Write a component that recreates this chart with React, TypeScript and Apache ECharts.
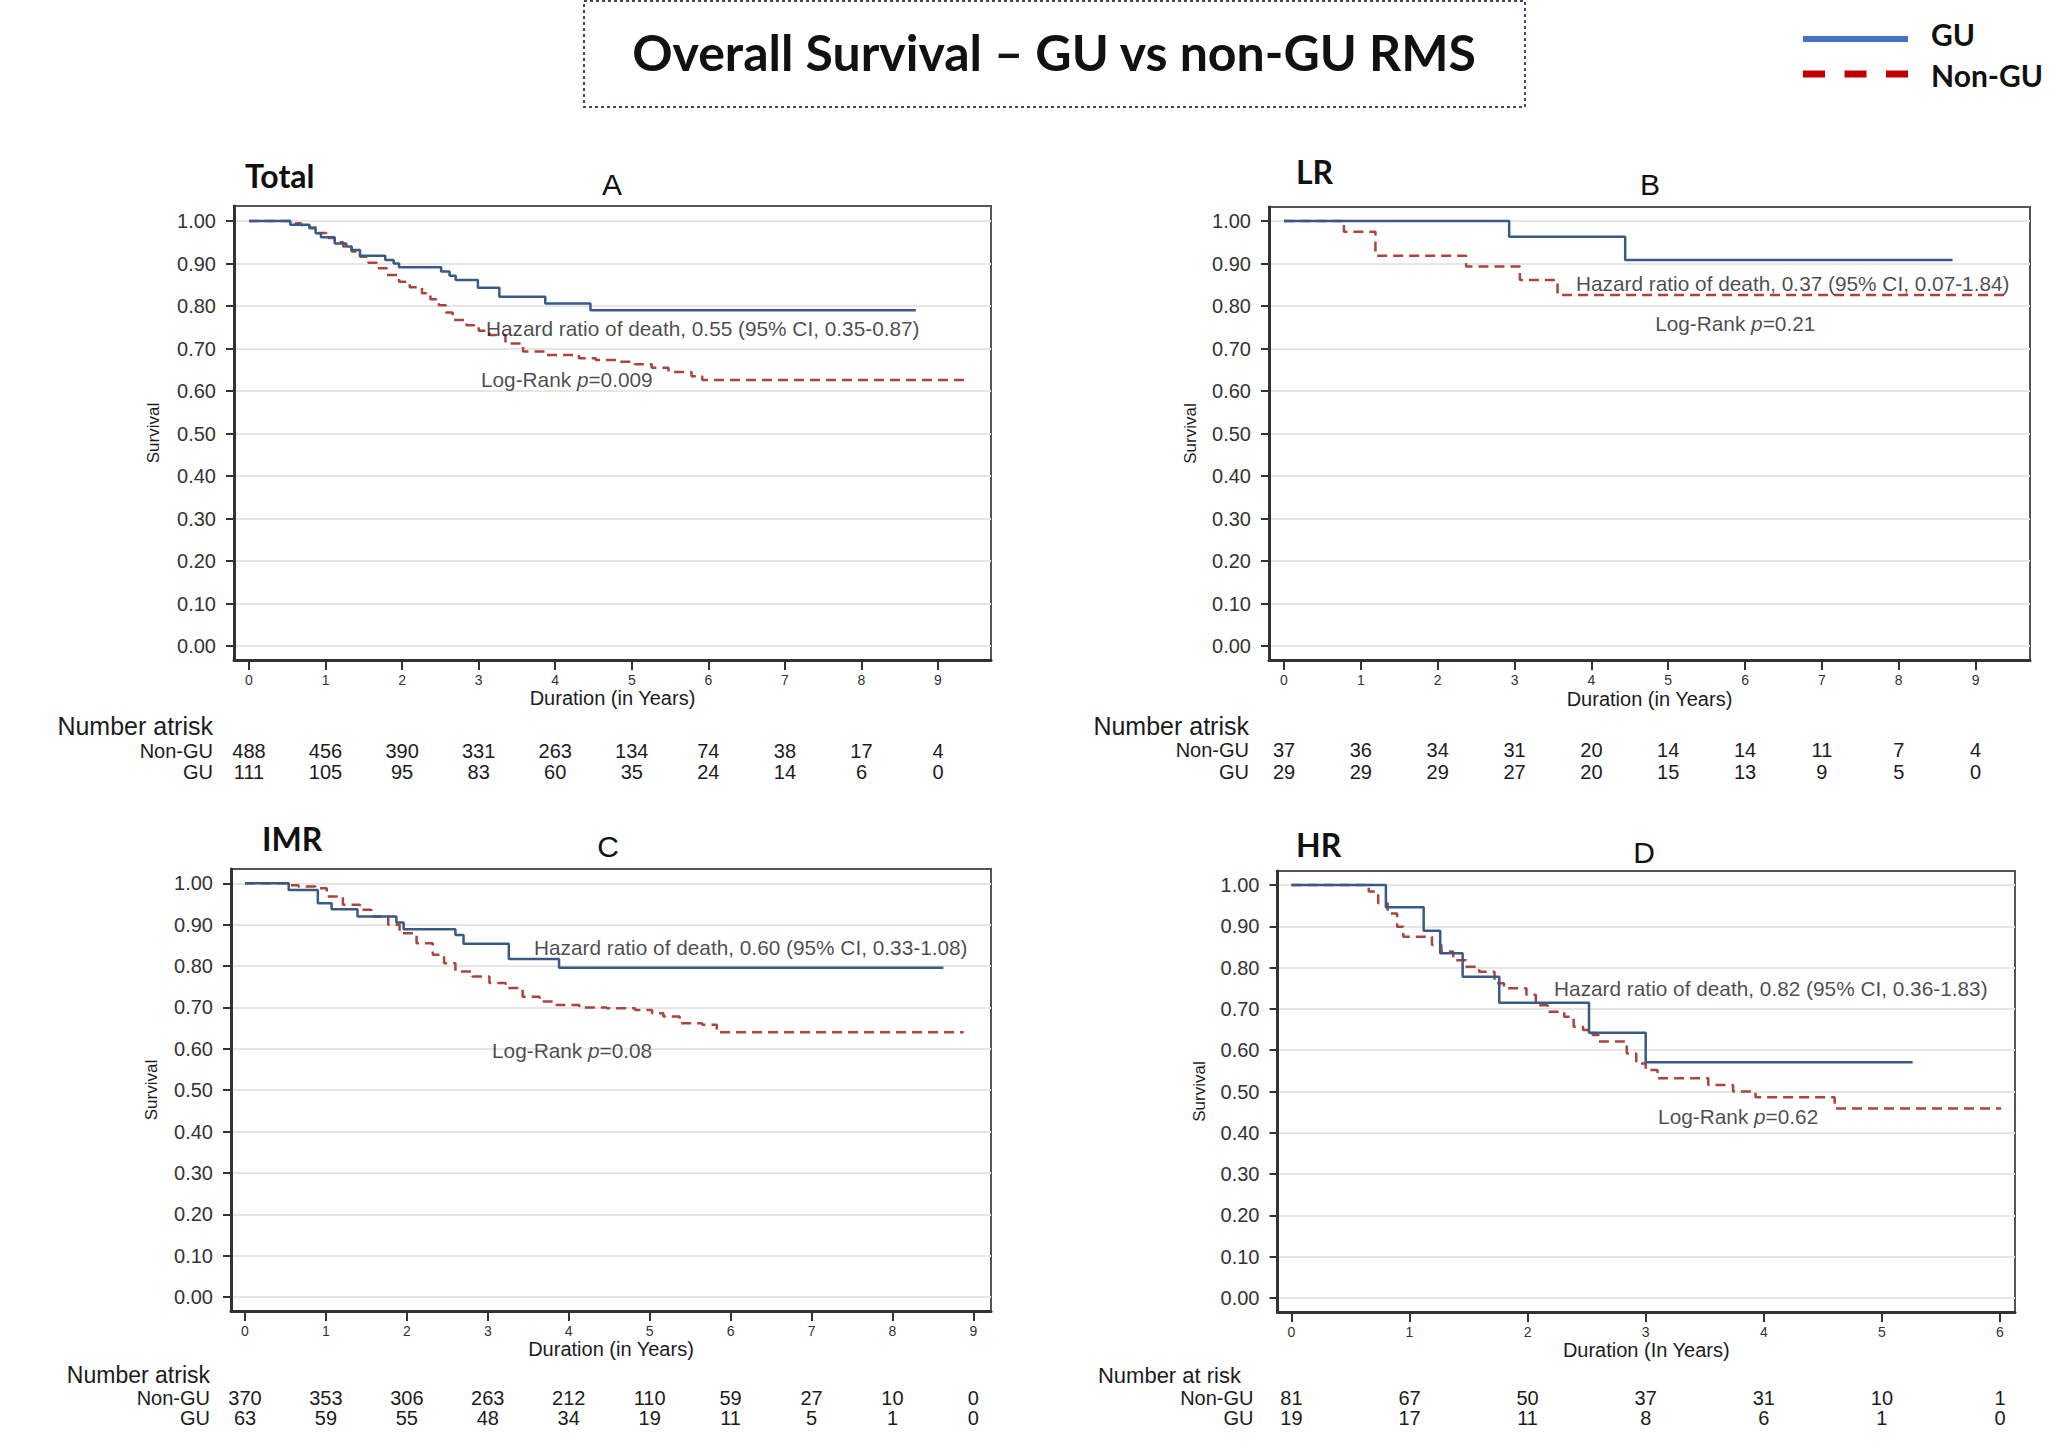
import React, { useEffect, useRef } from 'react';
import * as echarts from 'echarts';

// ---------------- DATA ----------------
const Y_TICKS = [0, 0.1, 0.2, 0.3, 0.4, 0.5, 0.6, 0.7, 0.8, 0.9, 1.0];
const X_TICKS_9 = [0, 1, 2, 3, 4, 5, 6, 7, 8, 9];
const X_TICKS_6 = [0, 1, 2, 3, 4, 5, 6];

const GU_A = [[0, 1], [0.54, 0.991], [0.79, 0.983], [0.87, 0.971], [0.94, 0.962], [1.12, 0.947], [1.27, 0.94], [1.34, 0.932], [1.45, 0.918], [1.78, 0.908], [1.89, 0.9], [1.96, 0.891], [2.51, 0.881], [2.62, 0.871], [2.7, 0.861], [2.99, 0.843], [3.27, 0.822], [3.87, 0.806], [4.46, 0.79], [8.71, 0.79]];
const NON_A = [[0, 1], [0.57, 0.995], [0.68, 0.99], [0.79, 0.985], [0.9, 0.972], [1.01, 0.96], [1.12, 0.95], [1.23, 0.94], [1.34, 0.928], [1.45, 0.916], [1.56, 0.902], [1.67, 0.889], [1.8, 0.873], [1.96, 0.857], [2.1, 0.844], [2.26, 0.83], [2.37, 0.816], [2.48, 0.802], [2.57, 0.785], [2.66, 0.767], [2.84, 0.755], [3.0, 0.742], [3.14, 0.732], [3.35, 0.712], [3.58, 0.693], [3.87, 0.685], [4.31, 0.677], [4.53, 0.673], [4.82, 0.669], [5.04, 0.663], [5.26, 0.655], [5.48, 0.645], [5.78, 0.635], [5.92, 0.626], [9.37, 0.626]];

const GU_B = [[0, 1], [2.93, 0.963], [4.44, 0.908], [8.7, 0.908]];
const NON_B = [[0, 1], [0.78, 0.975], [1.19, 0.918], [2.37, 0.893], [3.07, 0.861], [3.56, 0.826], [9.37, 0.826]];

const GU_C = [[0, 1], [0.54, 0.984], [0.9, 0.952], [1.07, 0.937], [1.39, 0.92], [1.87, 0.905], [1.96, 0.889], [2.6, 0.875], [2.7, 0.854], [3.26, 0.817], [3.88, 0.796], [8.63, 0.796]];
const NON_C = [[0, 1], [0.52, 0.995], [0.66, 0.992], [0.87, 0.988], [1.01, 0.968], [1.21, 0.948], [1.42, 0.936], [1.56, 0.92], [1.77, 0.9], [1.91, 0.879], [2.12, 0.855], [2.32, 0.827], [2.46, 0.807], [2.6, 0.787], [2.81, 0.775], [3.02, 0.759], [3.22, 0.747], [3.43, 0.726], [3.64, 0.714], [3.85, 0.706], [4.13, 0.7], [4.47, 0.698], [4.82, 0.694], [5.03, 0.686], [5.17, 0.678], [5.37, 0.662], [5.65, 0.658], [5.83, 0.64], [8.88, 0.64]];

const GU_D = [[0, 1], [0.8, 0.946], [1.12, 0.889], [1.26, 0.835], [1.45, 0.778], [1.76, 0.715], [2.52, 0.642], [3.0, 0.571], [5.26, 0.571]];
const NON_D = [[0, 1], [0.655, 0.984], [0.735, 0.956], [0.815, 0.931], [0.895, 0.899], [0.948, 0.875], [1.19, 0.855], [1.27, 0.839], [1.37, 0.818], [1.48, 0.802], [1.59, 0.79], [1.72, 0.762], [1.8, 0.75], [1.99, 0.734], [2.07, 0.709], [2.17, 0.693], [2.31, 0.681], [2.39, 0.657], [2.47, 0.649], [2.55, 0.637], [2.6, 0.621], [2.84, 0.592], [2.92, 0.568], [3.0, 0.552], [3.1, 0.532], [3.53, 0.516], [3.74, 0.5], [3.93, 0.486], [4.6, 0.459], [6.01, 0.459]];

const RISK_NON_A = [488, 456, 390, 331, 263, 134, 74, 38, 17, 4];
const RISK_GU_A = [111, 105, 95, 83, 60, 35, 24, 14, 6, 0];
const RISK_NON_B = [37, 36, 34, 31, 20, 14, 14, 11, 7, 4];
const RISK_GU_B = [29, 29, 29, 27, 20, 15, 13, 9, 5, 0];
const RISK_NON_C = [370, 353, 306, 263, 212, 110, 59, 27, 10, 0];
const RISK_GU_C = [63, 59, 55, 48, 34, 19, 11, 5, 1, 0];
const RISK_NON_D = [81, 67, 50, 37, 31, 10, 1];
const RISK_GU_D = [19, 17, 11, 8, 6, 1, 0];

const PANEL_TITLES = ['Total', 'LR', 'IMR', 'HR'];
const PANEL_LETTERS = ['A', 'B', 'C', 'D'];
const HAZARD = [
  'Hazard ratio of death, 0.55 (95% CI, 0.35-0.87)',
  'Hazard ratio of death, 0.37 (95% CI, 0.07-1.84)',
  'Hazard ratio of death, 0.60 (95% CI, 0.33-1.08)',
  'Hazard ratio of death, 0.82 (95% CI, 0.36-1.83)',
];
const LOGRANK_P = ['0.009', '0.21', '0.08', '0.62'];
const DURATION = ['Duration (in Years)', 'Duration (in Years)', 'Duration (in Years)', 'Duration (In Years)'];
const RISK_HEAD = ['Number atrisk', 'Number atrisk', 'Number atrisk', 'Number at risk'];
const ROW_NAMES = ['Non-GU', 'GU'];

const PANELS = [
  { gu: GU_A, non: NON_A, riskNon: RISK_NON_A, riskGu: RISK_GU_A, xTicks: X_TICKS_9 },
  { gu: GU_B, non: NON_B, riskNon: RISK_NON_B, riskGu: RISK_GU_B, xTicks: X_TICKS_9 },
  { gu: GU_C, non: NON_C, riskNon: RISK_NON_C, riskGu: RISK_GU_C, xTicks: X_TICKS_9 },
  { gu: GU_D, non: NON_D, riskNon: RISK_NON_D, riskGu: RISK_GU_D, xTicks: X_TICKS_6 },
];

// ---------------- LAYOUT (pixels) ----------------
const LAYOUT = [
  { l: 234, t: 206, r: 991, b: 660, x0: 249, xRef: 938, xRefVal: 9, y1: 221, y0: 646, rows: [90.7, 111.7], rowGap: 21, head: [213, 726], headSize: 25, yGap: 81, durGap: 38, title: [245, 175], letter: [612, 184], hz: [3.096, 0.746], lr: [3.03, 0.626] },
  { l: 1269, t: 207, r: 2030, b: 660, x0: 1284, xRef: 1975.6, xRefVal: 9, y1: 221, y0: 646, rows: [90, 111.7], rowGap: 20, head: [1249, 726], headSize: 25, yGap: 79, durGap: 39, title: [1296, 171], letter: [1650, 184], hz: [3.8, 0.854], lr: [4.83, 0.758] },
  { l: 231, t: 869, r: 991, b: 1311, x0: 245, xRef: 973.4, xRefVal: 9, y1: 883.3, y0: 1297, rows: [87.3, 107.3], rowGap: 21, head: [210, 1375], headSize: 23, yGap: 80, durGap: 37, title: [262, 838], letter: [608, 846], hz: [3.571, 0.846], lr: [3.052, 0.597] },
  { l: 1277.5, t: 871, r: 2015, b: 1312, x0: 1291.4, xRef: 2000, xRefVal: 6, y1: 885, y0: 1298, rows: [86.3, 106.3], rowGap: 24, head: [1241, 1375], headSize: 22, yGap: 78.5, durGap: 36, title: [1296, 844], letter: [1644, 852], hz: [2.224, 0.75], lr: [3.105, 0.44] },
];

const FONT = '"Liberation Sans", Arial, sans-serif';
const BOLD_FONT = 'Lato, "Open Sans", sans-serif';
const TXT = '#1c1c1c';
const GU_COLOR = '#3A5A86';
const NON_COLOR = '#A9443F';

function buildOption() {
  const grid: any[] = [];
  const xAxis: any[] = [];
  const yAxis: any[] = [];
  const series: any[] = [];
  const graphic: any[] = [];

  PANELS.forEach((p, i) => {
    const L = LAYOUT[i];
    const ppy = (L.xRef - L.x0) / L.xRefVal;
    const xmin = (L.l - L.x0) / ppy;
    const xmax = (L.r - L.x0) / ppy;
    const ppv = L.y0 - L.y1;
    const ymax = 1 + (L.y1 - L.t) / ppv;
    const ymin = -(L.b - L.y0) / ppv;

    grid.push({
      left: L.l, top: L.t, width: L.r - L.l, height: L.b - L.t,
      show: true, borderColor: '#555', borderWidth: 2, backgroundColor: '#fff', containLabel: false,
    });

    const xi = xAxis.length;
    xAxis.push({
      type: 'value', gridIndex: i, min: xmin, max: xmax, position: 'bottom',
      axisLine: { show: true, onZero: false, lineStyle: { color: '#333', width: 3 } },
      axisTick: { show: true, customValues: p.xTicks, length: 10, lineStyle: { color: '#333', width: 2 } },
      axisLabel: { show: true, customValues: p.xTicks, margin: 13, fontSize: 14, color: '#333', fontFamily: FONT },
      splitLine: { show: false },
      name: DURATION[i], nameLocation: 'middle', nameGap: L.durGap,
      nameTextStyle: { fontSize: 20, color: TXT, fontFamily: FONT, verticalAlign: 'middle' },
    });
    const rowArrays = [p.riskNon, p.riskGu];
    rowArrays.forEach((arr, k) => {
      xAxis.push({
        type: 'value', gridIndex: i, min: xmin, max: xmax, position: 'bottom', offset: L.rows[k],
        axisLine: { show: false }, axisTick: { show: false }, splitLine: { show: false },
        axisLabel: {
          show: true, customValues: p.xTicks, margin: 0, verticalAlign: 'middle',
          fontSize: 20, color: TXT, fontFamily: FONT,
          formatter: (v: number) => String(arr[Math.round(v)]),
        },
      });
      graphic.push({
        type: 'text', x: L.l - L.rowGap, y: L.b + L.rows[k],
        style: { text: ROW_NAMES[k], fontFamily: FONT, fontSize: 20, fill: TXT, align: 'right', verticalAlign: 'middle' },
      });
    });

    const yi = yAxis.length;
    yAxis.push({
      type: 'value', gridIndex: i, min: ymin, max: ymax,
      axisLine: { show: true, onZero: false, lineStyle: { color: '#333', width: 3 } },
      axisTick: { show: true, customValues: Y_TICKS, length: 8, lineStyle: { color: '#333', width: 2 } },
      axisLabel: { show: true, customValues: Y_TICKS, margin: 18, fontSize: 20, color: '#333', fontFamily: FONT, formatter: (v: number) => v.toFixed(2) },
      splitLine: { show: true, lineStyle: { color: '#e6e6e6', width: 2 } },
      name: 'Survival', nameLocation: 'middle', nameRotate: 90, nameGap: L.yGap,
      nameTextStyle: { fontSize: 17, color: TXT, fontFamily: FONT, verticalAlign: 'middle' },
    });

    series.push({
      type: 'line', name: 'Non-GU', xAxisIndex: xi, yAxisIndex: yi, data: p.non, step: 'end',
      symbol: 'none', clip: false, z: 3,
      lineStyle: { color: NON_COLOR, width: 2.5, type: [10, 6] },
    });
    series.push({
      type: 'line', name: 'GU', xAxisIndex: xi, yAxisIndex: yi, data: p.gu, step: 'end',
      symbol: 'none', clip: false, z: 4,
      lineStyle: { color: GU_COLOR, width: 2.5 },
    });
    series.push({
      type: 'scatter', xAxisIndex: xi, yAxisIndex: yi, symbolSize: 0, silent: true, z: 6,
      data: [
        { value: L.hz, label: { formatter: HAZARD[i] } },
        { value: L.lr, label: { formatter: 'Log-Rank {i|p}=' + LOGRANK_P[i] } },
      ],
      label: {
        show: true, position: 'right', distance: 0, fontSize: 20.8, color: TXT, fontFamily: FONT,
        rich: { i: { fontStyle: 'italic', fontSize: 20.8, color: TXT, fontFamily: FONT } },
      },
    });

    graphic.push({
      type: 'text', x: L.title[0], y: L.title[1],
      style: { text: PANEL_TITLES[i], fontFamily: BOLD_FONT, fontWeight: 'bold', fontSize: 32, fill: '#111', align: 'left', verticalAlign: 'middle' },
    });
    graphic.push({
      type: 'text', x: L.letter[0], y: L.letter[1],
      style: { text: PANEL_LETTERS[i], fontFamily: FONT, fontSize: 30, fill: '#111', align: 'center', verticalAlign: 'middle' },
    });
    graphic.push({
      type: 'text', x: L.head[0], y: L.head[1],
      style: { text: RISK_HEAD[i], fontFamily: FONT, fontSize: L.headSize, fill: TXT, align: 'right', verticalAlign: 'middle' },
    });
  });

  // Title box and legend
  graphic.push({
    type: 'rect', shape: { x: 584, y: 1, width: 941, height: 106 },
    style: { fill: 'none', stroke: '#3C4A6E', lineWidth: 2, lineDash: [3, 3] },
  });
  graphic.push({
    type: 'text', x: 1054, y: 52,
    style: { text: 'Overall Survival – GU vs non-GU RMS', fontFamily: BOLD_FONT, fontWeight: 'bold', fontSize: 50, fill: '#111', align: 'center', verticalAlign: 'middle' },
  });
  graphic.push({
    type: 'line', shape: { x1: 1803, y1: 39, x2: 1908, y2: 39 },
    style: { stroke: '#4472C4', lineWidth: 6 },
  });
  graphic.push({
    type: 'text', x: 1931, y: 34,
    style: { text: 'GU', fontFamily: BOLD_FONT, fontWeight: 'bold', fontSize: 30, fill: '#111', align: 'left', verticalAlign: 'middle' },
  });
  graphic.push({
    type: 'line', shape: { x1: 1803, y1: 74, x2: 1908, y2: 74 },
    style: { stroke: '#C00000', lineWidth: 7, lineDash: [22, 19.5] },
  });
  graphic.push({
    type: 'text', x: 1931, y: 75,
    style: { text: 'Non-GU', fontFamily: BOLD_FONT, fontWeight: 'bold', fontSize: 30, fill: '#111', align: 'left', verticalAlign: 'middle' },
  });

  return {
    animation: false,
    backgroundColor: '#ffffff',
    textStyle: { fontFamily: FONT },
    grid, xAxis, yAxis, series, graphic,
  };
}

export default function App() {
  const ref = useRef<HTMLDivElement>(null);
  useEffect(() => {
    document.body.style.margin = '0';
    if (!ref.current) return;
    const chart = echarts.init(ref.current, null, { renderer: 'svg' });
    chart.setOption(buildOption() as any);
    return () => chart.dispose();
  }, []);
  return <div ref={ref} style={{ width: 2056, height: 1454, background: '#fff' }} />;
}
